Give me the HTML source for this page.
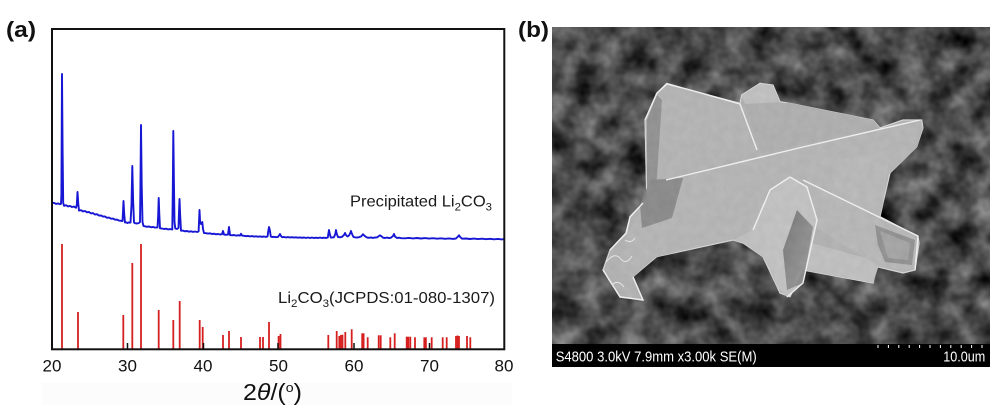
<!DOCTYPE html>
<html>
<head>
<meta charset="utf-8">
<style>
html,body{margin:0;padding:0;background:#fff;}
svg{display:block;}
text{font-family:"Liberation Sans","DejaVu Sans",sans-serif;}
</style>
</head>
<body>
<svg width="1000" height="416" viewBox="0 0 1000 416" xmlns="http://www.w3.org/2000/svg">
<defs>
  <filter id="noise" x="0" y="0" width="100%" height="100%" color-interpolation-filters="sRGB">
    <feTurbulence type="fractalNoise" baseFrequency="0.04" numOctaves="3" seed="7"/>
    <feColorMatrix type="matrix" values="0.7 0 0 0 -0.06  0.7 0 0 0 -0.06  0.7 0 0 0 -0.06  0 0 0 0 1"/>
  </filter>
  <filter id="tex" x="0" y="0" width="100%" height="100%" color-interpolation-filters="sRGB">
    <feTurbulence type="fractalNoise" baseFrequency="0.12" numOctaves="2" seed="3"/>
    <feColorMatrix type="matrix" values="0.25 0 0 0 0.6  0.25 0 0 0 0.6  0.25 0 0 0 0.6  0 0 0 0 1"/>
  </filter>
  <clipPath id="semclip"><rect x="552" y="27" width="438" height="317"/></clipPath>
  <clipPath id="crys">
    <polygon points="666.7,83.3 690,90 740,103.3 741.7,95 760,83.3 773,85 780,101.7 790,103.3 873,120 880,128 903,120 921.7,120 923,128 916.7,146.7 890,173 883,203 880,216.7 918,236.7 919,243 915,270 903,273 876.7,266.7 873,283 803,270 790,296.7 780,293 763,256.7 743,243 733,240 656.7,256.7 633,276.7 643,300 620,296.7 603,270 610,250 626.7,233 630,216.7 643,203 646.7,196.7 645,120 656.7,93.3"/>
  </clipPath>
  <linearGradient id="gD" x1="0" y1="0" x2="1" y2="1">
    <stop offset="0" stop-color="#6a6a6a"/>
    <stop offset="1" stop-color="#9a9a9a"/>
  </linearGradient>
</defs>

<!-- Panel (a) -->
<text x="6" y="37" font-size="22" font-weight="bold" fill="#111" textLength="30" lengthAdjust="spacingAndGlyphs">(a)</text>

<rect x="42" y="383" width="470" height="22" fill="#fcfcfc"/>

<g stroke="#d62020" stroke-width="1.8" fill="none">
  <line x1="62" y1="349" x2="62" y2="244"/>
  <line x1="78" y1="349" x2="78" y2="312"/>
  <line x1="123.3" y1="349" x2="123.3" y2="315"/>
  <line x1="132.3" y1="349" x2="132.3" y2="263"/>
  <line x1="141" y1="349" x2="141" y2="244"/>
  <line x1="158.7" y1="349" x2="158.7" y2="310"/>
  <line x1="173.3" y1="349" x2="173.3" y2="320"/>
  <line x1="179.7" y1="349" x2="179.7" y2="301"/>
  <line x1="199.7" y1="349" x2="199.7" y2="320"/>
  <line x1="202.7" y1="349" x2="202.7" y2="327"/>
  <line x1="223" y1="349" x2="223" y2="335"/>
  <line x1="229" y1="349" x2="229" y2="331"/>
  <line x1="241" y1="349" x2="241" y2="337"/>
  <line x1="260" y1="349" x2="260" y2="337"/>
  <line x1="263" y1="349" x2="263" y2="337"/>
  <line x1="269" y1="349" x2="269" y2="322"/>
  <line x1="278.6" y1="349" x2="278.6" y2="336"/>
  <line x1="280.5" y1="349" x2="280.5" y2="334"/>
  <line x1="328.3" y1="349" x2="328.3" y2="335"/>
  <line x1="336.7" y1="349" x2="336.7" y2="331"/>
  <line x1="339.3" y1="349" x2="339.3" y2="336"/>
  <line x1="340.9" y1="349" x2="340.9" y2="335"/>
  <line x1="342.5" y1="349" x2="342.5" y2="334.7"/>
  <line x1="345.3" y1="349" x2="345.3" y2="332"/>
  <line x1="351.7" y1="349" x2="351.7" y2="329.3"/>
  <line x1="362.2" y1="349" x2="362.2" y2="333.3"/>
  <line x1="363.6" y1="349" x2="363.6" y2="333.3"/>
  <line x1="367.7" y1="349" x2="367.7" y2="337.3"/>
  <line x1="378.7" y1="349" x2="378.7" y2="335.3"/>
  <line x1="380.7" y1="349" x2="380.7" y2="335.3"/>
  <line x1="390.3" y1="349" x2="390.3" y2="337.3"/>
  <line x1="394.7" y1="349" x2="394.7" y2="333.3"/>
  <line x1="406.7" y1="349" x2="406.7" y2="336.7"/>
  <line x1="408.3" y1="349" x2="408.3" y2="336.7"/>
  <line x1="410.3" y1="349" x2="410.3" y2="336.7"/>
  <line x1="415" y1="349" x2="415" y2="337.3"/>
  <line x1="424.3" y1="349" x2="424.3" y2="337.3"/>
  <line x1="425.9" y1="349" x2="425.9" y2="337.3"/>
  <line x1="431.7" y1="349" x2="431.7" y2="337.3"/>
  <line x1="442.7" y1="349" x2="442.7" y2="337.3"/>
  <line x1="446.7" y1="349" x2="446.7" y2="337.3"/>
  <line x1="456" y1="349" x2="456" y2="336"/>
  <line x1="457.5" y1="349" x2="457.5" y2="335.5"/>
  <line x1="459" y1="349" x2="459" y2="336"/>
  <line x1="467" y1="349" x2="467" y2="336"/>
  <line x1="470.3" y1="349" x2="470.3" y2="337.3"/>
</g>

<g stroke="#111" stroke-width="1.5">
  <line x1="127.5" y1="343" x2="127.5" y2="349"/>
  <line x1="203.5" y1="343" x2="203.5" y2="349"/>
  <line x1="278" y1="343" x2="278" y2="349"/>
  <line x1="354" y1="343" x2="354" y2="349"/>
  <line x1="429.5" y1="343" x2="429.5" y2="349"/>
</g>

<polyline fill="none" stroke="#1616d4" stroke-width="1.9" stroke-linejoin="round" points="
52,203.3 54,202.8 56,203.9 58,203.4 60,204.2 61,203.8 61.4,195 62,74 62.6,150 63.2,203 64,205.8
66,205.2 68,206.4 70,205.9 72,207 74,206.6 76,207.8 76.8,205 77.5,192 78.3,204 79,210.5
81,210.2 83,211.4 85,211 87,212.3 89,212 91,213.4 93,213.1 95,214.5 97,214.2 99,215.6 101,215.4 103,216.6 105,216.5 107,217.8 109,217.6 111,218.7 113,218.6 115,219.7 117,219.6 119,220.6 121,220.8 122.5,221
123,212 123.5,201 124.2,214 125,222.5 126,222.3 127.5,223 128.5,222.4 130.5,222.6
131.5,205 132.3,166 133.1,200 134,222.5 135,223.2 137,223.5 139,223 140,222
140.4,190 141,125 141.7,185 142.5,222 143.5,226 145,226.3 147,226.8 149,226.5 151,227.3 153,226.9 155,227.6 157.5,227.4
158.2,215 158.7,198 159.3,214 160,228.3 162,228.5 164,229 166,228.7 168,229.4 170,229.1 172.3,229.5
172.8,190 173.3,131 173.9,180 174.5,222 175.3,228.5 177,229 178.5,228
179,212 179.5,199 180.1,214 181,230.7 183,230.6 185,231.3 187,231 189,231.7 191,231.3 193,231.9 195,231.5 197,232 198.6,231.5
199.1,220 199.5,210 200.1,222 201,224 202.3,222 203,229 204,233
206,233.2 208,233.6 210,233.3 212,234 214,233.7 216,234.3 218,234 220,234.5 222,234.2 223,231 224,234.5 226,234.8 228,234.6
229,227 230,235 232,235.3 234,235 236,235.6 238,235.3 240,235.5 241,233.8 242,235.6 244,235.8 246,236.2 248,235.9 250,236.4 252,236.1 254,236.6 256,236.3 258,236.7 260,236.4 262,236.8 264,236.5 266,236.9 267.5,236.5
268.3,231 269,227 269.8,230 270.8,236.5 272,237 274,236.8 276,237.2 278,236.9 279,235.5 280,234 281,236 282,237.2 284,237 286,237.4 288,237.1 290,237.5 292,237.2 294,237.6 296,237.3 298,237.7 300,237.4 302,237.8 304,237.5 306,237.9 308,237.5 310,237.9 312,237.6 314,238 316,237.7 318,238 320,237.6 322,238 324,237.7 326,238 327.8,237.5
328.5,233 329,230 329.8,234 330.8,237.5 332,237.6 334,237.2 335.3,234 336,230 336.8,234 338,237 340,237.3 342,236.8 344,235 345,233 346,235 347.5,236.5 349,235.5 350.5,232.5 351,231 352,234 353.5,237 355,237.3 357,237.6 359,237.2 361,236.5 363,234.3 365,236.2 367,237.5 369,237.8 371,237.4 373,237.9 375,237.5 377,237.4 379,236 380,235.3 381.5,236.3 383,237.7 385,238 387,237.6 389,238.1 391,237.7 393,236 394,234 395,236.5 397,238 399,237.7 401,238.2
405,238.3 409,237.9 413,238.4 417,238 421,238.5 425,238.1 429,238.6 433,238.2 437,238.7 441,238.3 445,238.8 449,238.4 453,238.9 456,238.5 458,236.5 459,235.3 460,236.8 462,238.7 466,238.5 470,239 474,238.6 478,239.1 482,238.7 486,239.2 490,238.8 494,239.3 498,238.9 502,239.4 504,239"/>

<rect x="52" y="29" width="452.3" height="320.3" fill="none" stroke="#111" stroke-width="2"/>

<text x="350" y="206.7" font-size="16" fill="#1a1a1a" textLength="142" lengthAdjust="spacingAndGlyphs">Precipitated Li<tspan font-size="11" dy="4">2</tspan><tspan dy="-4">CO</tspan><tspan font-size="11" dy="4">3</tspan></text>
<text x="278" y="303" font-size="16" fill="#1a1a1a" textLength="217" lengthAdjust="spacingAndGlyphs">Li<tspan font-size="11" dy="4">2</tspan><tspan dy="-4">CO</tspan><tspan font-size="11" dy="4">3</tspan><tspan dy="-4">(JCPDS:01-080-1307)</tspan></text>

<g font-size="17" fill="#111" text-anchor="middle">
  <text x="52" y="371.7">20</text>
  <text x="127.5" y="371.7">30</text>
  <text x="203" y="371.7">40</text>
  <text x="278.5" y="371.7">50</text>
  <text x="354" y="371.7">60</text>
  <text x="429.5" y="371.7">70</text>
  <text x="504" y="371.7">80</text>
</g>
<text x="243" y="400" font-size="23" fill="#111" textLength="59" lengthAdjust="spacingAndGlyphs">2<tspan font-style="italic">θ</tspan>/(<tspan font-size="13" dy="-8">o</tspan><tspan dy="8">)</tspan></text>

<!-- Panel (b) -->
<text x="518" y="37" font-size="22" font-weight="bold" fill="#111" textLength="31" lengthAdjust="spacingAndGlyphs">(b)</text>

<g clip-path="url(#semclip)">
  <rect x="552" y="27" width="438" height="317" fill="#4c4c4c"/>
  <rect x="552" y="27" width="438" height="317" filter="url(#noise)"/>

  <polygon points="666.7,83.3 690,90 740,103.3 741.7,95 760,83.3 773,85 780,101.7 790,103.3 873,120 880,128 903,120 921.7,120 923,128 916.7,146.7 890,173 883,203 880,216.7 918,236.7 919,243 915,270 903,273 876.7,266.7 873,283 803,270 790,296.7 780,293 763,256.7 743,243 733,240 656.7,256.7 633,276.7 643,300 620,296.7 603,270 610,250 626.7,233 630,216.7 643,203 646.7,196.7 645,120 656.7,93.3" fill="#b0b0b0" stroke="#d8d8d8" stroke-width="1.2"/>
  <polygon points="647,120 657,93 667,84 690,90 740,104 757,150 666,180 647,197" fill="#b2b2b2"/>
  <polygon points="647,120 657,95 662,100 656,190 647,197" fill="#8a8a8a"/>
  <polygon points="745,104 790,103 873,120 880,128 762,153 757,140" fill="#acacac"/>
  <polygon points="742,96 760,84 773,86 780,102 745,104" fill="#c0c0c0"/>
  <polygon points="666,180 920,120 923,128 917,147 890,173 820,192 760,232 656,257 633,277 620,270 630,230 645,203" fill="#b4b4b4"/>
  <polygon points="650,180 683,178 672,218 642,228 640,205" fill="#828282"/>
  <polygon points="840,160 890,150 883,203 880,216 830,200" fill="#b8b8b8"/>
  <polygon points="733,240 757,228 880,262 873,283 803,270 790,285 763,257 743,243" fill="#c0c0c0"/>
  <polygon points="803,180 918,236 915,270 880,267 817,228" fill="#b6b6b6"/>
  <polygon points="875,225 915,240 912,265 885,262 878,245" fill="#8a8a8a"/>
  <polygon points="880,231 910,243 908,260 888,258" fill="#a0a0a0"/>
  <polygon points="790,177 807,187 817,220 803,283 787,297 777,287 753,230 770,190" fill="#c2c2c2"/>
  <polygon points="797,210 813,227 803,283 787,290 783,250" fill="url(#gD)"/>
  <g clip-path="url(#crys)" opacity="0.18">
    <rect x="600" y="80" width="330" height="225" filter="url(#tex)"/>
  </g>
  <g fill="none" stroke="#eeeeee" stroke-width="1.4" stroke-linejoin="round">
    <polyline points="666,180 803,147 920,120"/>
    <polyline points="790,177 807,187 817,220 803,283 787,297"/>
    <polyline points="753,230 770,190 790,177"/>
    <polyline points="803,180 918,236 915,270"/>
    <polyline points="645,120 657,93 667,84 690,90 740,104"/>
    <polyline points="610,250 626,233 630,217 643,203"/>
    <polyline points="603,270 620,297 643,300 633,277"/>
    <polyline points="740,104 757,150"/>
  </g>
  <path d="M606,262 q8,-10 14,-4 q6,8 12,-2 M612,285 q6,-6 12,2 M625,240 q6,4 10,-2" fill="none" stroke="#e6e6e6" stroke-width="1"/>
</g>

<rect x="552" y="344" width="438" height="23" fill="#000"/>
<g stroke="#fff" stroke-width="1">
  <line x1="878" y1="345" x2="878" y2="348"/>
  <line x1="888.4" y1="345" x2="888.4" y2="348"/>
  <line x1="898.8" y1="345" x2="898.8" y2="348"/>
  <line x1="909.2" y1="345" x2="909.2" y2="348"/>
  <line x1="919.6" y1="345" x2="919.6" y2="348"/>
  <line x1="930" y1="345" x2="930" y2="348"/>
  <line x1="940.4" y1="345" x2="940.4" y2="348"/>
  <line x1="950.8" y1="345" x2="950.8" y2="348"/>
  <line x1="961.2" y1="345" x2="961.2" y2="348"/>
  <line x1="971.6" y1="345" x2="971.6" y2="348"/>
  <line x1="982" y1="345" x2="982" y2="348"/>
</g>
<text x="555.7" y="361.7" font-size="15" fill="#fff" textLength="201" lengthAdjust="spacingAndGlyphs">S4800 3.0kV 7.9mm x3.00k SE(M)</text>
<text x="943.3" y="361.7" font-size="15" fill="#fff" textLength="42" lengthAdjust="spacingAndGlyphs">10.0um</text>
</svg>
</body>
</html>
